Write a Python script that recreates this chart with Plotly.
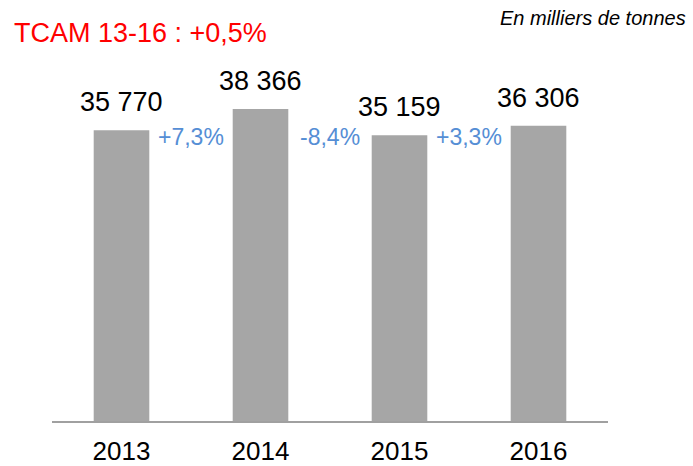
import plotly.graph_objects as go

years = ['2013', '2014', '2015', '2016']
tonnes = [35770, 38366, 35159, 36306]

bar_color = '#A6A6A6'
growth_color = '#558ED5'
font_family = 'Liberation Sans, Arial, sans-serif'


def fr_pct(v):
    # format français : virgule décimale, signe explicite
    s = '{:+.1f}%'.format(v)
    return s.replace('.', ',')


def fr_int(v):
    return '{:,}'.format(v).replace(',', ' ')


x_pos = list(range(len(years)))

fig = go.Figure(go.Bar(
    x=x_pos, y=tonnes,
    marker=dict(color=bar_color, line=dict(width=0)),
    hoverinfo='skip',
))

annotations = []

# valeurs au-dessus des barres
for i, v in enumerate(tonnes):
    annotations.append(dict(
        x=x_pos[i], y=v, xref='x', yref='y',
        text=fr_int(v), showarrow=False,
        yanchor='middle', yshift=28,
        font=dict(size=27, color='black', family=font_family),
    ))

# évolutions annuelles entre les barres
for i in range(len(tonnes) - 1):
    g = (tonnes[i + 1] / tonnes[i] - 1) * 100
    annotations.append(dict(
        x=x_pos[i] + 0.5, y=0.745, xref='x', yref='paper',
        text=fr_pct(g), showarrow=False,
        yanchor='middle',
        font=dict(size=23, color=growth_color, family=font_family),
    ))

# TCAM
cagr = ((tonnes[-1] / tonnes[0]) ** (1 / (len(tonnes) - 1)) - 1) * 100
annotations.append(dict(
    x=12, y=33, xref='paper', yref='paper',
    text='TCAM 13-16 : ' + fr_pct(cagr), showarrow=False,
    xanchor='left', yanchor='middle',
    font=dict(size=27, color='#FF0000', family=font_family),
))
annotations.append(dict(
    x=688, y=18, xref='paper', yref='paper',
    text='<i>En milliers de tonnes</i>', showarrow=False,
    xanchor='right', yanchor='middle',
    font=dict(size=20, color='black', family=font_family),
))

# conversion des positions pixel -> paper pour les deux textes d'en-tête
W, H = 693, 466
ml, mr, mt, mb = 52, 85, 40, 45
for a in annotations[-2:]:
    a['x'] = (a['x'] - ml) / (W - ml - mr)
    a['y'] = 1 + (mt - a['y']) / (H - mt - mb)

fig.update_layout(
    width=W, height=H,
    margin=dict(l=ml, r=mr, t=mt, b=mb),
    plot_bgcolor='white',
    paper_bgcolor='white',
    bargap=0.6,
    showlegend=False,
    annotations=annotations,
    font=dict(family=font_family),
)
fig.update_xaxes(
    tickvals=x_pos, ticktext=years,
    range=[-0.5, len(years) - 0.5],
    showline=True, linecolor='#A0A0A0', linewidth=2,
    showgrid=False, zeroline=False, ticks='',
    ticklabelstandoff=6, automargin=False,
    tickfont=dict(size=26, color='black', family=font_family),
)
fig.update_yaxes(
    range=[0, 46860],
    visible=False, showgrid=False, zeroline=False, automargin=False,
)

fig.write_html('out.html', config={'displayModeBar': False},
               post_script="document.body.style.margin='0';")
